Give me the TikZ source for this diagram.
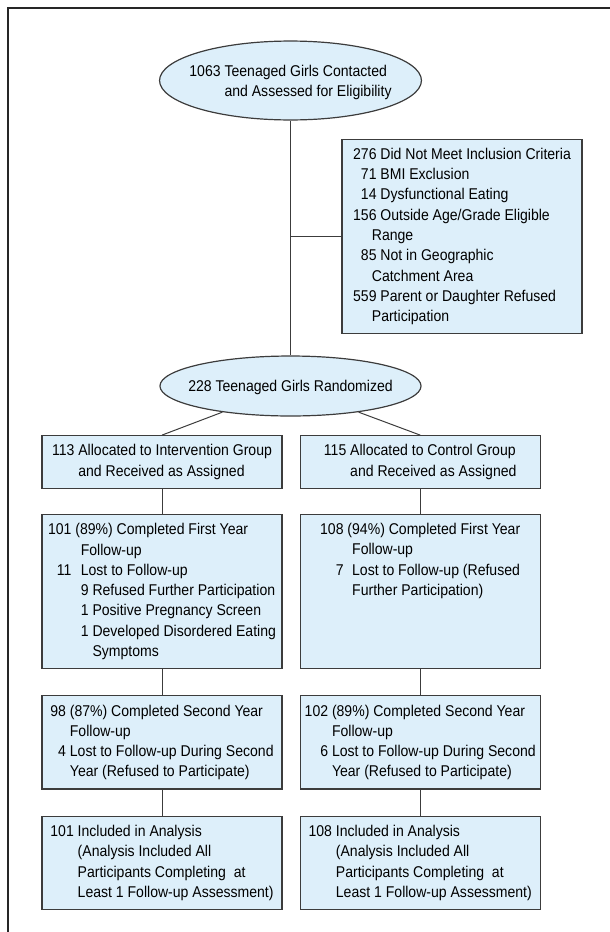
\documentclass[tikz,border=0pt]{standalone}
\usepackage{fontspec}
\setmainfont{Liberation Sans}[FakeStretch=0.9]
\usepackage{tikz}
\usetikzlibrary{shapes,positioning}
\definecolor{boxfill}{RGB}{221,239,250}
\definecolor{boxline}{RGB}{60,60,60}

\begin{document}
\begin{tikzpicture}[x=0.5pt, y=-0.5pt, node distance=13pt,
    font=\fontsize{7.8}{10.15}\selectfont,
    box/.style={draw=boxline, fill=boxfill, line width=0.6pt, rectangle, minimum width=120pt, inner xsep=0pt, inner ysep=3pt},
    oval/.style={draw=boxline, fill=boxfill, line width=0.6pt, ellipse, inner sep=0pt},
    link/.style={draw=boxline, line width=0.5pt}]
    \useasboundingbox (0,0) rectangle (610,932);
    \draw[line width=0.7pt, black!85] (8,932) -- (8,8) -- (610,8);

    \node (contacted) at (290.5,80.5) [oval, text height=11.7pt, text depth=16.2pt]
      {\makebox[92.6pt]{\begin{tabular}[t]{@{}r@{\ }l@{}}
        1063 & Teenaged Girls Contacted\\
             & and Assessed for Eligibility
      \end{tabular}}};
    \node (excluded) at (462,236.5) [box]
      {\begin{tabular}[t]{@{}r@{\ }l@{}}
        276 & Did Not Meet Inclusion Criteria\\
        71  & BMI Exclusion\\
        14  & Dysfunctional Eating\\
        156 & Outside Age/Grade Eligible\\
            & \hspace{-0.55em}Range\\
        85  & Not in Geographic\\
            & \hspace{-0.55em}Catchment Area\\
        559 & Parent or Daughter Refused\\
            & \hspace{-0.55em}Participation
      \end{tabular}};
    \node (randomized) at (290.5,386) [oval, text height=13.4pt, text depth=7.8pt]
      {\makebox[92.3pt]{228 Teenaged Girls Randomized}};

    \node (interv) at (162,462) [box]
      {\begin{tabular}[t]{@{}r@{\ }l@{}}
        113 & Allocated to Intervention Group\\
            & and Received as Assigned
      \end{tabular}};
    \node (ctrl) [box, right=8.5pt of interv]
      {\begin{tabular}[t]{@{}r@{\ }l@{}}
        115 & Allocated to Control Group\\
            & and Received as Assigned
      \end{tabular}};

    \node (intervFirst) [box, below=12.5pt of interv]
      {\begin{tabular}[t]{@{}r@{\ }l@{}}
        101 & (89\%) Completed First Year\\
            & \hspace{0.35em}Follow-up\\
        11  & \hspace{0.35em}Lost to Follow-up\\
            & \hspace{0.35em}9 Refused Further Participation\\
            & \hspace{0.35em}1 Positive Pregnancy Screen\\
            & \hspace{0.35em}1 Developed Disordered Eating\\
            & \hspace{0.35em}\phantom{1\ }Symptoms
      \end{tabular}};
    \node (ctrlFirst) [box, right=8.5pt of intervFirst, text depth=64pt]
      {\begin{tabular}[t]{@{}r@{\ }l@{}}
        108 & (94\%) Completed First Year\\
            & \hspace{0.3em}Follow-up\\
        7   & \hspace{0.3em}Lost to Follow-up (Refused\\
            & \hspace{0.3em}Further Participation)
      \end{tabular}};

    \node (intervSecond) [box, below=of intervFirst]
      {\begin{tabular}[t]{@{}r@{\ }l@{}}
        98 & (87\%) Completed Second Year\\
           & Follow-up\\
        4  & Lost to Follow-up During Second\\
           & Year (Refused to Participate)
      \end{tabular}};
    \node (ctrlSecond) [box, right=8.5pt of intervSecond]
      {\begin{tabular}[t]{@{}r@{\ }l@{}}
        102 & (89\%) Completed Second Year\\
            & Follow-up\\
        6   & Lost to Follow-up During Second\\
            & Year (Refused to Participate)
      \end{tabular}};

    \node (intervAnalysis) [box, below=of intervSecond]
      {\begin{tabular}[t]{@{}r@{\ }l@{}}
        101 & Included in Analysis\\
            & (Analysis Included All\\
            & Participants Completing\ \ at\\
            & Least 1 Follow-up Assessment)
      \end{tabular}};
    \node (ctrlAnalysis) [box, right=8.5pt of intervAnalysis]
      {\begin{tabular}[t]{@{}r@{\ }l@{}}
        108 & Included in Analysis\\
            & (Analysis Included All\\
            & Participants Completing\ \ at\\
            & Least 1 Follow-up Assessment)
      \end{tabular}};

    \coordinate (branch) at (contacted.south |- excluded.west);
    \draw[link] (contacted) -- (randomized);
    \draw[link] (branch) -- (excluded);
    \draw[link] (randomized.201) -- (interv.north);
    \draw[link] (randomized.339) -- (ctrl.north);
    \draw[link] (interv) -- (intervFirst);
    \draw[link] (ctrl) -- (ctrlFirst);
    \draw[link] (intervFirst) -- (intervSecond);
    \draw[link] (ctrlFirst) -- (ctrlSecond);
    \draw[link] (intervSecond) -- (intervAnalysis);
    \draw[link] (ctrlSecond) -- (ctrlAnalysis);
\end{tikzpicture}
\end{document}
